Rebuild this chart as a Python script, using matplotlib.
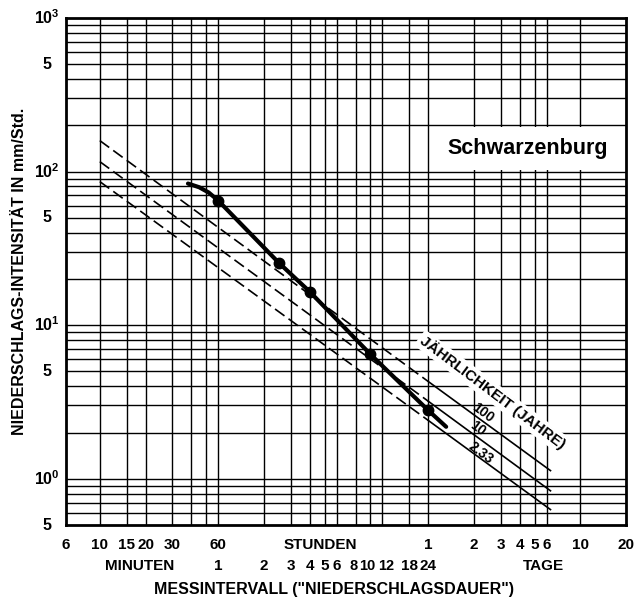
import matplotlib
matplotlib.use("Agg")
import matplotlib.pyplot as plt

plt.rcParams["font.family"] = ["Liberation Sans", "DejaVu Sans"]
plt.rcParams["mathtext.fontset"] = "custom"
plt.rcParams["mathtext.rm"] = "Liberation Sans:bold"
plt.rcParams["mathtext.bf"] = "Liberation Sans:bold"

# duration in minutes, intensity in mm/h
curve_min = [38, 45, 52, 60, 150, 240, 600, 1440, 1890]
curve_val = [83.5, 79, 73, 64.7, 25.5, 16.5, 6.47, 2.79, 2.18]
point_min = [60, 150, 240, 600, 1440]
point_val = [64.7, 25.5, 16.5, 6.47, 2.79]

# return-period lines: value at 10 min, at 1 day, at end
period_labels = ["100", "10", "2.33"]
period_min = [10, 1440, 9170]
period_vals = {
    "100": [159, 4.3, 1.13],
    "10": [116, 3.2, 0.835],
    "2.33": [86, 2.4, 0.63],
}

# vertical grid lines (minutes)
grid_min = [10, 15, 20, 30, 40, 50, 60, 120, 180, 240, 300, 360, 480, 600,
            720, 1080, 1440, 2880, 4320, 5760, 7200, 8640, 14400]

row1_pos = [6, 10, 15, 20, 30, 60, 1440, 2880, 4320, 5760, 7200, 8640, 14400, 28800]
row1_lab = ["6", "10", "15", "20", "30", "60", "1", "2", "3", "4", "5", "6", "10", "20"]
row2_pos = [60, 120, 180, 240, 300, 360, 480, 600, 720, 1080, 1440]
row2_lab = ["1", "2", "3", "4", "5", "6", "8", "10", "12", "18", "24"]

ytick_pos = [0.5, 1, 5, 10, 50, 100, 500, 1000]
ytick_lab = ["5", r"$10^0$", "5", r"$10^1$", "5", r"$10^2$", "5", r"$10^3$"]

fig = plt.figure(figsize=(6.35, 5.97), dpi=100)
ax = fig.add_axes([0.104, 0.1206, 0.882, 0.8494])
ax.set_xscale("log")
ax.set_yscale("log")
ax.set_xlim(6, 28800)
ax.set_ylim(0.5, 1000)

# grid
for v in grid_min:
    ax.axvline(v, color="black", lw=1.0, zorder=1)
for dec in [0.1, 1, 10, 100]:
    for k in range(1, 10):
        y = dec * k
        if 0.5 < y < 1000:
            ax.axhline(y, color="black", lw=1.0, zorder=1)

ax.set_xticks([])
ax.set_xticks([], minor=True)
ax.set_yticks([])
ax.set_yticks([], minor=True)
for s in ax.spines.values():
    s.set_linewidth(2)

for y, lab in zip(ytick_pos, ytick_lab):
    ax.text(-0.034, y, lab, transform=ax.get_yaxis_transform(), ha="center",
            va="center", fontsize=11.5, fontweight="bold")

xt = ax.get_xaxis_transform()
for x, lab in zip(row1_pos, row1_lab):
    ax.text(x, -0.04, lab, transform=xt, ha="center", va="center",
            fontsize=11, fontweight="bold")
# small nudges so the crowded hour labels don't collide
nudge = {"8": -1.5, "10": -2.5, "12": 2.5}
for x, lab in zip(row2_pos, row2_lab):
    ax.annotate(lab, (x, -0.081), xycoords=xt,
                xytext=(nudge.get(lab, 0), 0), textcoords="offset points",
                ha="center", va="center", fontsize=10.5 if lab in nudge else 11,
                fontweight="bold")
ax.text(0.454, -0.04, "STUNDEN", transform=ax.transAxes, ha="center",
        va="center", fontsize=11, fontweight="bold")
ax.text(0.132, -0.081, "MINUTEN", transform=ax.transAxes, ha="center",
        va="center", fontsize=11, fontweight="bold")
ax.text(0.852, -0.081, "TAGE", transform=ax.transAxes, ha="center",
        va="center", fontsize=11, fontweight="bold")
ax.text(0.479, -0.128, "MESSINTERVALL (\"NIEDERSCHLAGSDAUER\")",
        transform=ax.transAxes, ha="center", va="center", fontsize=11.5,
        fontweight="bold")
fig.text(0.03, 0.545, "NIEDERSCHLAGS-INTENSITÄT IN mm/Std.", rotation=90,
         ha="center", va="center", fontsize=11.5, fontweight="bold")

# return period lines
for lab in period_labels:
    vals = period_vals[lab]
    ax.plot(period_min[:2], vals[:2], color="black", lw=1.2,
            dashes=(7, 3), zorder=3)
    ax.plot(period_min[1:], vals[1:], color="black", lw=1.2, zorder=3)

# measured curve
ax.plot(curve_min, curve_val, color="black", lw=3, zorder=4,
        solid_capstyle="round")
ax.plot(point_min, point_val, "o", color="black", ms=7.5, zorder=5)

ang = -37
ax.text(0.745, 0.222, "100", transform=ax.transAxes, rotation=ang,
        ha="center", va="center", fontsize=10, fontweight="bold", zorder=6)
ax.text(0.735, 0.19, "10", transform=ax.transAxes, rotation=ang,
        ha="center", va="center", fontsize=10, fontweight="bold", zorder=6)
ax.text(0.740, 0.142, "2.33", transform=ax.transAxes, rotation=ang,
        ha="center", va="center", fontsize=10, fontweight="bold", zorder=6)
ax.text(0.761, 0.262, "JÄHRLICHKEIT (JAHRE)", transform=ax.transAxes,
        rotation=ang, ha="center", va="center", fontsize=11,
        fontweight="bold", zorder=6,
        bbox=dict(facecolor="white", edgecolor="none", pad=1.5))

ax.text(0.825, 0.742, "Schwarzenburg", transform=ax.transAxes, ha="center",
        va="center", fontsize=15.5, fontweight="bold", zorder=6,
        bbox=dict(boxstyle="square,pad=0.5", facecolor="white",
                  edgecolor="none"))

fig.savefig("out.png", dpi=100)
